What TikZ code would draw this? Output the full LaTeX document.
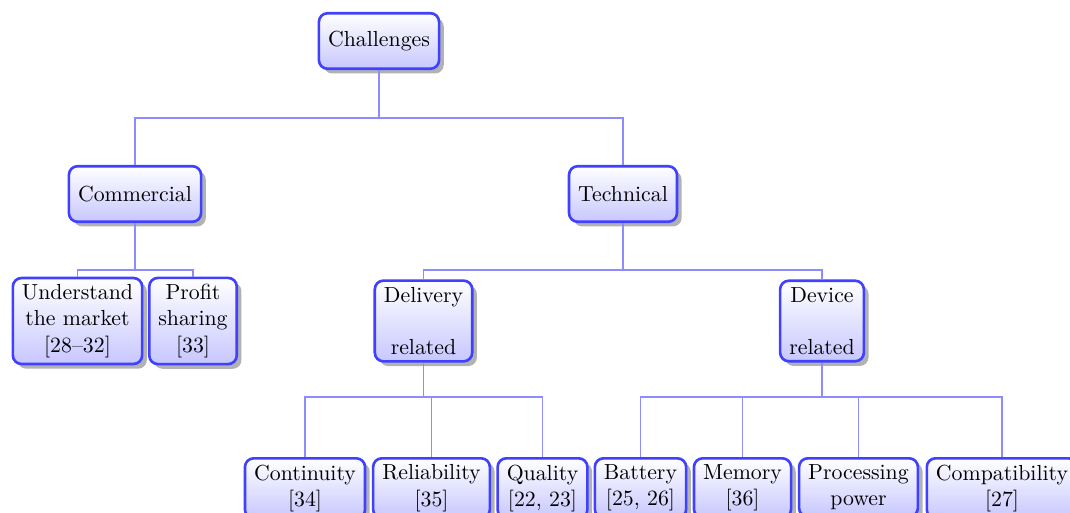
\documentclass[tikz,border=0pt]{standalone}
\usetikzlibrary{shadows,positioning}
\begin{document}
\begin{tikzpicture}[x=0.4587pt,y=-0.4587pt,
  box/.style={draw=blue!75,very thick,rounded corners=4pt,
    top color=white,bottom color=blue!22,
    drop shadow={fill=black!30,opacity=1},
    align=center,inner xsep=4.2pt,inner ysep=3pt,
    minimum height=25.5pt,font=\normalsize},
  conn/.style={draw=blue!45,line width=0.9pt}]
\useasboundingbox (0,0) rectangle (1070,513);

% level 1
\node[box] (ch) at (379,41) {Challenges};
% level 2
\node[box] (com) at (135,194) {Commercial};
\node[box] (tech) at (623,194) {Technical};
% level 3
\node[box] (und) at (77.5,321) {Understand\\the market\\{[28--32]}};
\node[box] (prof) at (193,321) {Profit\\sharing\\{[33]}};
\node[box] (del) at (423.5,321) {Delivery\\[\baselineskip]related};
\node[box] (dev) at (822,321) {Device\\[\baselineskip]related};
% level 4
\node[box,anchor=north] (cont) at (305,457) {Continuity\\{[34]}};
\node[box,anchor=north] (rel) at (431.5,457) {Reliability\\{[35]}};
\node[box,anchor=north] (qual) at (542.5,457) {Quality\\{[22, 23]}};
\node[box,anchor=north] (bat) at (640.5,457) {Battery\\{[25, 26]}};
\node[box,anchor=north] (mem) at (742.5,457) {Memory\\{[36]}};
\node[box,anchor=north] (proc) at (858.5,457) {Processing\\power};
\node[box,anchor=north] (comp) at (1002,457) {Compatibility\\{[27]}};

% connectors
\foreach \c in {com,tech}
  \draw[conn] (ch.south) -- ++(0,48) -| (\c.north);
\foreach \c in {und,prof}
  \draw[conn] (com.south) -- ++(0,47) -| (\c.north);
\foreach \c in {del,dev}
  \draw[conn] (tech.south) -- ++(0,47) -| (\c.north);
\foreach \c in {cont,rel,qual}
  \draw[conn] (del.south) -- ++(0,34) -| (\c.north);
\foreach \c in {bat,mem,proc,comp}
  \draw[conn] (dev.south) -- ++(0,34) -| (\c.north);
\end{tikzpicture}
\end{document}
